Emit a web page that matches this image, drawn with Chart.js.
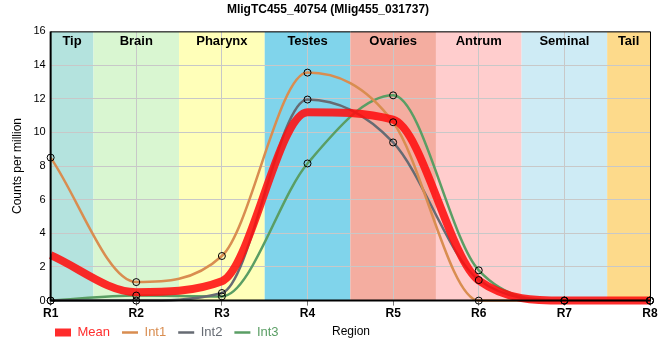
<!DOCTYPE html>
<html>
<head>
<meta charset="utf-8">
<script src="https://cdn.jsdelivr.net/npm/chart.js@4.4.1/dist/chart.umd.min.js"></script>
<style>
  html, body { margin: 0; background: #fff; }
  #wrap { width: 660px; height: 360px; }
</style>
</head>
<body>
<div id="wrap"><canvas id="grafico"></canvas></div>
<script>
const regiones = ['R1', 'R2', 'R3', 'R4', 'R5', 'R6', 'R7', 'R8'];
const meanVals = [2.7, 0.5, 1.15, 11.2, 10.75, 1.2, 0, 0];
const int1Vals = [8.5, 1.1, 2.65, 13.55, 10.6, 0, 0, 0];
const int2Vals = [0, 0, 0.45, 11.95, 9.4, 1.22, 0, 0];
const int3Vals = [0, 0.3, 0.25, 8.15, 12.2, 1.8, 0, 0];
const yTicks = [0, 2, 4, 6, 8, 10, 12, 14, 16];

const zonas = ['Tip', 'Brain', 'Pharynx', 'Testes', 'Ovaries', 'Antrum', 'Seminal', 'Tail'];
const zonaColores = ['#b4e3de', '#d9f6d1', '#ffffb9', '#80d4eb', '#f4ada0', '#ffcdcd', '#ceebf5', '#fdda8b'];

Chart.defaults.font.family = "'Liberation Sans', Arial, sans-serif";
Chart.defaults.color = '#000';

// fondo de colores por zona + etiquetas arriba
const fondoZonas = {
  id: 'fondoZonas',
  beforeDraw(chart) {
    const {ctx, chartArea: a, scales: {x}} = chart;
    ctx.save();
    zonas.forEach((z, i) => {
      const x0 = Math.max(a.left, x.getPixelForValue(i - 0.5));
      const x1 = Math.min(a.right, x.getPixelForValue(i + 0.5));
      ctx.fillStyle = zonaColores[i];
      ctx.fillRect(x0, a.top, x1 - x0, a.bottom - a.top);
    });
    ctx.restore();
  },
  beforeDatasetsDraw(chart) {
    const {ctx, chartArea: a, scales: {x}} = chart;
    ctx.save();
    ctx.font = "bold 13px 'Liberation Sans', Arial, sans-serif";
    ctx.fillStyle = '#000';
    ctx.textAlign = 'center';
    ctx.textBaseline = 'middle';
    zonas.forEach((z, i) => {
      const x0 = Math.max(a.left, x.getPixelForValue(i - 0.5));
      const x1 = Math.min(a.right, x.getPixelForValue(i + 0.5));
      ctx.fillText(z, (x0 + x1) / 2, a.top + 10);
    });
    ctx.restore();
  },
  afterDatasetsDraw(chart) {
    const {ctx, chartArea: a} = chart;
    ctx.save();
    ctx.strokeStyle = '#000';
    ctx.lineWidth = 1;
    ctx.beginPath();
    ctx.moveTo(a.left, a.top + 0.5);
    ctx.lineTo(a.right + 0.5, a.top + 0.5);
    ctx.lineTo(a.right + 0.5, a.bottom);
    ctx.stroke();
    ctx.lineWidth = 2;
    ctx.beginPath();
    ctx.moveTo(a.left, a.top);
    ctx.lineTo(a.left, a.bottom);
    ctx.lineTo(a.right + 1, a.bottom);
    ctx.stroke();
    ctx.restore();
  },
  afterLayout(chart) {
    // leyenda en la misma fila que el titulo del eje x
    const lg = chart.legend;
    lg.left = 43;
    lg.top -= 8;
    lg.bottom -= 8;
  },
  afterDraw(chart) {
    const {ctx} = chart;
    ctx.save();
    ctx.font = "12px 'Liberation Sans', Arial, sans-serif";
    ctx.fillStyle = '#000';
    ctx.textAlign = 'center';
    ctx.textBaseline = 'middle';
    ctx.fillText('Region', 351, 332);
    ctx.restore();
  }
};

function linea(label, data, color, width) {
  return {
    label: label,
    data: data,
    borderColor: color,
    backgroundColor: color,
    borderWidth: width,
    pointRadius: 0,
    cubicInterpolationMode: 'monotone',
    clip: false
  };
}
function puntos(data) {
  return {
    label: '_pts',
    data: data,
    showLine: false,
    pointRadius: 3.5,
    pointBorderColor: '#000',
    pointBackgroundColor: 'rgba(0,0,0,0)',
    pointBorderWidth: 1,
    order: -1,
    clip: false
  };
}

new Chart(document.getElementById('grafico'), {
  type: 'line',
  data: {
    labels: regiones,
    datasets: [
      linea('Mean', meanVals, 'rgba(255,15,15,0.88)', 8),
      linea('Int1', int1Vals, '#d98d50', 2.5),
      linea('Int2', int2Vals, '#666b73', 2.5),
      linea('Int3', int3Vals, '#5a9e64', 2.5),
      puntos(int1Vals),
      puntos(int2Vals),
      puntos(int3Vals)
    ]
  },
  options: {
    responsive: true,
    maintainAspectRatio: false,
    animation: false,
    layout: { padding: { left: 6, right: 10, top: 0, bottom: 3 } },
    plugins: {
      tooltip: { enabled: false },
      title: {
        display: true,
        text: 'MligTC455_40754 (Mlig455_031737)',
        font: { size: 12, weight: 'bold' },
        color: '#000',
        padding: { top: 2, bottom: 15 }
      },
      legend: {
        position: 'bottom',
        align: 'start',
        labels: {
          usePointStyle: true,
          pointStyle: 'line',
          pointStyleWidth: 16,
          padding: 12,
          font: { size: 13 },
          filter: (item) => item.text !== '_pts',
          generateLabels(chart) {
            const items = Chart.defaults.plugins.legend.labels.generateLabels(chart);
            return items.map(it => Object.assign(it, { fontColor: it.strokeStyle }));
          }
        }
      }
    },
    scales: {
      x: {
        offset: false,
        border: { display: false },
        grid: { color: '#c8c8c8', tickLength: 5, tickColor: '#777' },
        ticks: { font: { size: 12, weight: 'bold' }, color: '#000', padding: 1, maxRotation: 0 }
      },
      y: {
        min: 0,
        max: 16,
        afterBuildTicks(axis) { axis.ticks = yTicks.map(v => ({ value: v })); },
        border: { display: false },
        grid: { color: '#c8c8c8', drawTicks: false },
        ticks: { font: { size: 11 }, color: '#000', padding: 5 },
        title: { display: true, text: 'Counts per million', font: { size: 12 }, color: '#000', padding: { top: 4, bottom: 4 } }
      }
    }
  },
  plugins: [fondoZonas]
});
</script>
</body>
</html>
